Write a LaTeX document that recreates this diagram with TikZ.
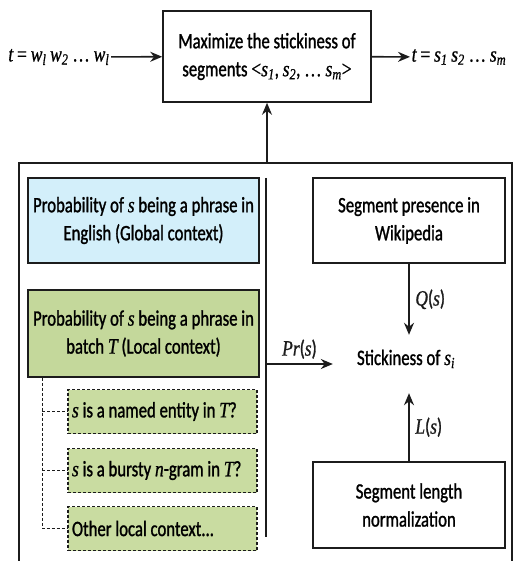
\documentclass[tikz,border=0pt]{standalone}
\usepackage{fontspec}
\setmainfont{Carlito}[FakeStretch=0.76, FakeBold=1.2]
\newfontfamily\varfont{Liberation Serif}[FakeStretch=0.8, FakeBold=0.8]
\usepackage{tikz}
\usetikzlibrary{arrows.meta}
\definecolor{globcol}{HTML}{D3EFFA}
\definecolor{loccol}{HTML}{C4D89B}
\definecolor{cuecol}{HTML}{C9DCA1}
\definecolor{inkcol}{HTML}{1C1C1C}
\newcommand\vit[1]{{\varfont\itshape #1}}
\newcommand\vsub[1]{\textsubscript{\varfont\itshape #1}}

\begin{document}
\begin{tikzpicture}[x=1pt, y=-1pt, font=\fontsize{22}{28}\selectfont,
      plainbox/.style={draw=inkcol, line width=1.6pt, fill=white,
                       align=center, inner sep=0pt},
      globbox/.style={plainbox, fill=globcol},
      cuebox/.style={draw=inkcol, line width=1.2pt, densely dashed,
                     fill=cuecol, align=flush left, inner xsep=4pt, inner ysep=0pt,
                     text width=181pt, minimum height=44pt},
      arr/.style={-{Stealth[length=12pt, width=10pt]}, line width=1.6pt, color=inkcol},
      thin/.style={line width=1.2pt, color=inkcol},
      tree/.style={line width=1pt, densely dashed, color=inkcol},
      lab/.style={inner sep=1.5pt}]

    \useasboundingbox (0,0) rectangle (517,561);
    \clip (0,0) rectangle (517,561);

    % top row
    \node[plainbox, minimum width=208pt, minimum height=91pt] (maxbox) at (267,56.5)
      {Maximize the stickiness of\\
       segments {\varfont<}\vit{s}\vsub{1}, \vit{s}\vsub{2}, {\varfont\dots} \vit{s}\vsub{m}{\varfont>}};
    \node[lab, anchor=east] (inp) at (111,57)
      {\vit{t} {\varfont=} \vit{w}\vsub{l}\,\vit{w}\vsub{2} {\varfont\dots} \vit{w}\vsub{l}};
    \node[lab, anchor=west] (outp) at (410,57)
      {\vit{t} {\varfont=} \vit{s}\vsub{1}\,\vit{s}\vsub{2} {\varfont\dots} \vit{s}\vsub{m}};
    \draw[arr] (inp) -- (maxbox);
    \draw[arr] (maxbox) -- (outp);

    % context frame
    \draw[thin] (19,575) -- (19,163) -- (512,163) -- (512,575);
    \coordinate (ctxtop) at (267,163);
    \draw[arr] (ctxtop) -- (maxbox);

    % left column
    \node[globbox, minimum width=231pt, minimum height=85pt] (glob) at (143.5,220.5)
      {Probability of \vit{s} being a phrase in\\ English (Global context)};
    \node[globbox, fill=loccol, minimum width=231pt, minimum height=87pt] (loc) at (143.5,333.5)
      {Probability of \vit{s} being a phrase in\\ batch \vit{T} (Local context)};

    \foreach \y/\name/\txt in {
        411.5/cueA/{\vit{s} is a named entity in \vit{T}?},
        470.5/cueB/{\vit{s} is a bursty \vit{n}-gram in \vit{T}?},
        528.5/cueC/{Other local context...}}
    {
      \node[cuebox] (\name) at (162.5,\y) {\mbox{\txt}};
    }
    \coordinate (treetop) at ([xshift=15pt]loc.south west);
    \draw[tree] (treetop) |- (cueC.west);
    \draw[tree] (treetop |- cueA.west) -- (cueA.west);
    \draw[tree] (treetop |- cueB.west) -- (cueB.west);

    % separator
    \coordinate (sepT) at (266,178);
    \coordinate (sepB) at (266,537);
    \draw[thin] (sepT) -- (sepB);

    % right column
    \node[plainbox, minimum width=192pt, minimum height=85pt] (wiki) at (409,220.5)
      {Segment presence in\\ Wikipedia};
    \node[plainbox, minimum width=192pt, minimum height=86pt] (seglen) at (409,505)
      {Segment length\\ normalization};
    \node[anchor=base, inner xsep=24pt, inner ysep=0pt, text height=30pt, text depth=28pt]
      (stick) at (406,365) {Stickiness of \vit{s}\vsub{i}};

    \coordinate (prS) at (sepT |- stick.west);
    \draw[arr] (prS) -- (stick.west)
      node[lab, midway, above=3pt] {\vit{Pr}({\varfont\itshape s})};
    \draw[arr] (wiki.south) -- (wiki.south |- stick.north)
      node[lab, midway, right=4pt] {\vit{Q}(\vit{s})};
    \draw[arr] (seglen.north) -- (seglen.north |- stick.south)
      node[lab, midway, right=4pt] {\vit{L}(\vit{s})};
  \end{tikzpicture}
\end{document}
